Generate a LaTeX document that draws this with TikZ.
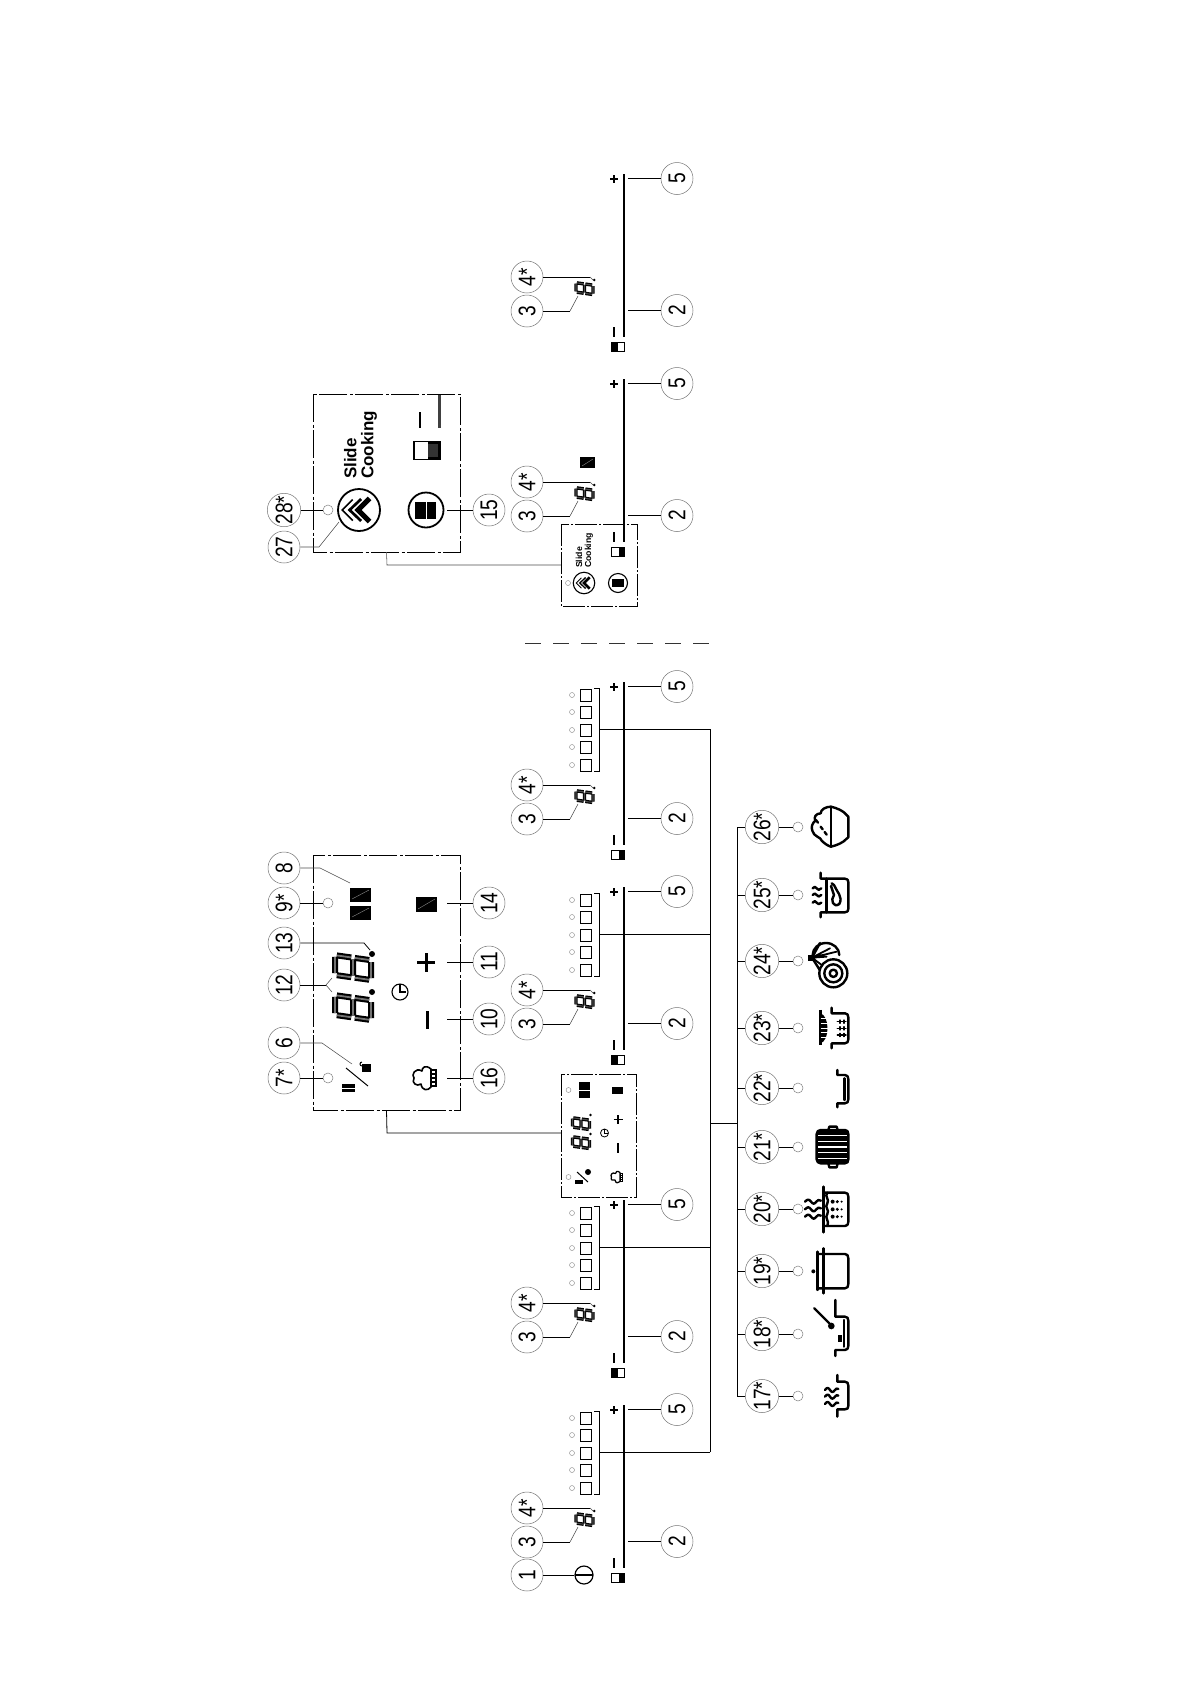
\documentclass[tikz,border=0pt]{standalone}
\usepackage{fontspec}
\setmainfont{Liberation Sans}
\tikzset{
  x=1pt,y=-1pt,
  num/.style={circle,draw=black!55,line width=.5pt,minimum size=32pt,inner sep=0pt,rotate=90,text=black,font=\fontsize{24}{24}\selectfont},
  dotc/.style={circle,draw=black!50,line width=.5pt,minimum size=10pt,inner sep=0pt},
  dots/.style={circle,draw=black!50,line width=.4pt,minimum size=5pt,inner sep=0pt},
  lead/.style={draw=black,line width=.8pt},
  leadg/.style={draw=black!70,line width=.55pt},
  boxd/.style={draw=black,line width=.8pt,dash pattern=on 28pt off 2.5pt on 3pt off 2.5pt},
  boxs/.style={draw=black,line width=.8pt,dash pattern=on 22pt off 2pt on 2pt off 2pt},
  bus/.style={draw=black,line width=1pt},
  ic/.style={draw=black,line width=2.4pt,line cap=round,line join=round},
  slidetxt/.style={rotate=90,anchor=west,inner sep=0pt,align=left},
}
\newcommand{\nt}[1]{\scalebox{0.8}[1]{#1}}
% x y size width inner-colour
\newcommand{\segdigit}[5]{%
  \begin{scope}[shift={(#1,#2)},x={(0pt,#3pt)},y={(-#3pt,0.14*#3pt)}]
    \foreach \cc/\ww in {black/#4,#5/0.3*#4}{
    \draw[\cc,line width=\ww pt]
      (.05,1)--(.5,1) (.05,.5)--(.5,.5) (.05,0)--(.5,0)
      (0,.55)--(0,.95) (.55,.55)--(.55,.95) (0,.05)--(0,.45) (.55,.05)--(.55,.45);}
  \end{scope}}
\newcommand{\chefhat}[3]{%
  \begin{scope}[shift={(#1,#2)},x=#3pt,y=-#3pt]
    \draw[black,line width=.9pt+.7pt*#3,line join=round] (6,-9) .. controls (0,-14) and (-3,-10) .. (-3,-7) .. controls (-10,-11) and (-14,-3) .. (-11,0) .. controls (-14,5) and (-8,9) .. (-4,6) .. controls (-3,13) and (3,13) .. (6,9) -- cycle;
    \fill[black] (5,-9) rectangle (12,9);
    \foreach \q in {-6,-2,2,6}{\fill[white] (7,\q-.8) rectangle (10,\q+.8);}
  \end{scope}}
\newcommand{\chevrons}[3]{%
  \begin{scope}[shift={(#1,#2)},x=#3pt,y=-#3pt]
    \draw[black,line width=#3*1.5pt] (-5,-10)--(-15,0)--(-5,10);
    \draw[black,line width=#3*2.6pt] (3,-10.5)--(-8,0)--(3,10.5);
    \draw[black,line width=#3*5pt] (11,-11)--(0,0)--(11,11);
  \end{scope}}
\newcommand{\onoff}[6]{% frame x0 y0 x1 y1, white part x0 x1
  \fill[black] (#1,#2) rectangle (#3,#4);
  \fill[white] (#5,{#2+1.4}) rectangle (#6,{#4-1.4});}
% one slider; #1 id, #2 shift, #3/#4 white part of the switch
\newcommand{\sliderunit}[4]{%
  \begin{scope}[shift={(0,#2)}]
    \onoff{611}{1573}{625}{1583}{#3}{#4}
    \draw[black,line width=2pt] (624,1405)--(624,1568);
    \draw[black,line width=1.6pt] (610,1410)--(618,1410) (614,1406)--(614,1414);
    \draw[black,line width=1.6pt] (614,1558)--(614,1568);
    \node[num] (nb#1) at (677,1541.5) {\nt{2}};
    \node[num] (nf#1) at (677,1409.5) {\nt{5}};
    \node[num] (nc#1) at (527,1542) {\nt{3}};
    \node[num] (nd#1) at (527,1508) {\nt{4*}};
    \coordinate (lb#1) at (628,1541.5);
    \coordinate (lf#1) at (628,1409.5);
    \coordinate (lc#1) at (570,1542);
    \coordinate (lce#1) at (578,1527);
    \coordinate (ld#1) at (590,1508);
    \coordinate (lde#1) at (593,1511);
    \draw[lead] (nb#1)--(lb#1);
    \draw[lead] (nf#1)--(lf#1);
    \draw[lead] (nc#1)--(lc#1);
    \draw[leadg] (lc#1)--(lce#1);
    \draw[lead] (nd#1)--(ld#1);
    \draw[leadg] (ld#1)--(lde#1);
    \segdigit{593}{1525.5}{17}{3.4}{black!70}
    \fill[black] (594.3,1511) circle (1.4);
  \end{scope}}
% five-level indicator with bracket; joins the bus
\newcommand{\squaresunit}[2]{%
  \begin{scope}[shift={(0,#2)}]
    \foreach \q/\r in {1418/a,1435/b,1453/c,1470/d,1488/e}{
      \node[dots] (s#1\r) at (572,\q) {};
      \node[draw=black,line width=.8pt,minimum width=11pt,minimum height=12pt,inner sep=0pt] (q#1\r) at (585.5,\q) {};
    }
    \coordinate (bk#1) at (599.5,1452);
    \coordinate (bs#1) at (710,1452);
    \draw[black,line width=.8pt] (594,1411)--(599.5,1411)--(599.5,1494)--(594,1494);
    \draw[bus] (bk#1)--(bs#1);
  \end{scope}}
\begin{document}
\begin{tikzpicture}
\useasboundingbox (0,0) rectangle (1190,1684);

% ---------- sliders
\sliderunit{a}{0}{612.4}{619}
\sliderunit{b}{-205}{618}{623.6}
\sliderunit{c}{-518}{618}{623.6}
\sliderunit{d}{-723}{612.4}{619}
\sliderunit{e}{-1026}{612.4}{619}
\sliderunit{f}{-1231}{618}{623.6}
\squaresunit{a}{0}
\squaresunit{b}{-205}
\squaresunit{c}{-518}
\squaresunit{d}{-723}

% power key
\node[num] (n1) at (527,1575) {\nt{1}};
\node[circle,draw=black,line width=1.2pt,minimum size=18pt,inner sep=0pt] (pw) at (584,1575) {};
\draw[lead] (n1)--(pw);
\draw[black,line width=1.2pt] (575,1575)--(593,1575);

% ---------- main bus
\draw[bus] (bsa)--(bsd);
\coordinate (bm) at (710,1123);
\coordinate (bt) at (737,1123);
\draw[bus] (bm)--(bt);

% ---------- zoomed timer box
\node[draw=none,minimum width=75pt,minimum height=123pt,inner sep=0pt] (sbox) at (598.5,1135.5) {};
\draw[boxs] (561,1074) rectangle (636,1197);
\node[draw=none,minimum width=147pt,minimum height=255pt,inner sep=0pt] (bbox) at (386.5,982.5) {};
\draw[boxd] (313,855) rectangle (460,1110);
\coordinate (bbc) at (387,1133);
\coordinate (bbd) at (561,1133);
\draw[lead] (bbox.south) -- (bbc) -- (bbd);

\node[num] (n8) at (284,868) {\nt{8}};
\node[num] (n9) at (284,903) {\nt{9*}};
\node[num] (n13) at (284,943) {\nt{13}};
\node[num] (n12) at (284,985) {\nt{12}};
\node[num] (n6) at (284,1043) {\nt{6}};
\node[num] (n7) at (284,1078) {\nt{7*}};
\node[num] (n14) at (489,903) {\nt{14}};
\node[num] (n11) at (489,962) {\nt{11}};
\node[num] (n10) at (489,1019) {\nt{10}};
\node[num] (n16) at (489,1078) {\nt{16}};
\node[dotc] (d9) at (328,903) {};
\node[dotc] (d7) at (328,1078) {};
\coordinate (k8a) at (320,868); \coordinate (k8b) at (350,883);
\coordinate (k13a) at (364,943); \coordinate (k13b) at (370,950);
\coordinate (k12a) at (326,985); \coordinate (k12b) at (332,978); \coordinate (k12c) at (332,992);
\coordinate (k6a) at (322,1043); \coordinate (k6b) at (352,1064);
\coordinate (k14) at (447,903); \coordinate (k11) at (447,962); \coordinate (k10) at (447,1019); \coordinate (k16) at (447,1078);
\draw[leadg] (n8)--(k8a)--(k8b);
\draw[lead] (n9)--(d9);
\draw[lead] (n13)--(k13a)--(k13b);
\draw[lead] (n12)--(k12a);
\draw[leadg] (k12b)--(k12a)--(k12c);
\draw[leadg] (n6)--(k6a)--(k6b);
\draw[lead] (n7)--(d7);
\draw[lead] (n14)--(k14);
\draw[lead] (n11)--(k11);
\draw[lead] (n10)--(k10);
\draw[lead] (n16)--(k16);

% big box icons
\fill[black] (350,888) rectangle (371,902);
\fill[black] (350,906) rectangle (371,920);
\draw[black!45,line width=.4pt] (352,899)--(369,890) (352,917)--(369,908);
\fill[black] (416,897) rectangle (437,912);
\draw[black!45,line width=.4pt] (418,909)--(435,899);
\segdigit{371}{980}{36}{6}{black!55}
\segdigit{371}{1020}{36}{6}{black!55}
\fill[black] (372,954) circle (3);
\fill[black] (372,992) circle (3);
\draw[black,line width=1.1pt] (400,992) circle (8);
\draw[black,line width=1.1pt] (400,984)--(400,992)--(406,992);
\draw[black,line width=3pt] (426,953)--(426,972) (417,962)--(435,962);
\draw[black,line width=3pt] (427,1011)--(427,1029);
\draw[black,line width=1pt] (346,1068)--(368,1086);
\fill[black] (342,1084) rectangle (355,1087.5);
\fill[black] (342,1088.5) rectangle (355,1092);
\fill[black] (362,1064) rectangle (371,1072);
\draw[black,line width=1pt] (362,1066) arc (90:270:2);
\chefhat{425}{1078}{1}

% small copy icons
\node[dots] (s1) at (568.5,1090) {};
\node[dots] (s2) at (568.5,1177) {};
\fill[black] (579,1082) rectangle (590,1089.5);
\fill[black] (579,1090.5) rectangle (590,1098);
\fill[black] (612,1087) rectangle (623,1094);
\segdigit{589.5}{1129.5}{17}{3.4}{black!70}
\segdigit{589.5}{1148.5}{17}{3.4}{black!70}
\fill[black] (590.5,1115) circle (1.4);
\fill[black] (590.5,1134) circle (1.4);
\draw[black,line width=.8pt] (604.5,1133) circle (4);
\draw[black,line width=.8pt] (604.5,1129)--(604.5,1133)--(607.5,1133);
\draw[black,line width=1.6pt] (618,1115)--(618,1124) (613.5,1119.5)--(622.5,1119.5);
\draw[black,line width=1.6pt] (618,1143)--(618,1153);
\draw[black,line width=1pt] (577,1172)--(588,1182);
\fill[black] (575,1180) rectangle (583,1184);
\fill[black] (588,1172) circle (3);
\chefhat{617}{1177}{.5}

% ---------- slide box
\node[draw=none,minimum width=147pt,minimum height=158pt,inner sep=0pt] (cbox) at (386.5,473) {};
\draw[boxd] (313,394) rectangle (460,552);
\node[draw=none,minimum width=76pt,minimum height=82pt,inner sep=0pt] (tbox) at (599,565) {};
\draw[boxs] (561,524) rectangle (637,606);
\coordinate (cbc) at (387,565);
\draw[leadg] (cbox.south) -- (cbc) -- (tbox.west);

\node[num] (n28) at (284,510) {\nt{28*}};
\node[num] (n27) at (284,547) {\nt{27}};
\node[num] (n15) at (489,510) {\nt{15}};
\node[dotc] (d28) at (328,510) {};
\node[circle,draw=black,line width=1.8pt,minimum size=42pt,inner sep=0pt] (big1) at (359,510) {};
\node[circle,draw=black,line width=1.8pt,minimum size=35pt,inner sep=0pt] (big2) at (426,510) {};
\coordinate (k27a) at (319,547); \coordinate (k27b) at (339,522);
\coordinate (k15) at (447,510);
\draw[lead] (n28)--(d28);
\draw[leadg] (n27)--(k27a)--(k27b);
\draw[lead] (n15)--(k15);
\chevrons{358}{510}{1.05}
\fill[black] (415,502) rectangle (425.5,519);
\fill[black] (426.5,502) rectangle (436,519);
\node[slidetxt,font=\fontsize{17}{17}\selectfont\bfseries] (tx1) at (360.5,479) {Slide\\Cooking};
\onoff{413}{441}{441}{460}{415}{428}
\fill[black!80] (428,444) rectangle (438,457);
\draw[black,line width=2.4pt] (420,412)--(420,428);
\draw[black!75,line width=3pt] (439.5,395)--(439.5,428);

% small slide panel
\node[dots] (s3) at (568,583) {};
\node[circle,draw=black,line width=1.1pt,minimum size=21.5pt,inner sep=0pt] (sm1) at (584,583) {};
\node[circle,draw=black,line width=1.1pt,minimum size=19pt,inner sep=0pt] (sm2) at (618,583) {};
\chevrons{584}{583}{.52}
\fill[black] (612,579) rectangle (624,587);
\node[slidetxt,font=\fontsize{8.7}{9}\selectfont\bfseries] (tx2) at (584.5,568) {Slide\\Cooking};
\fill[black] (580,457) rectangle (595,468);
\draw[black!45,line width=.4pt] (582,466)--(593,459);

% ---------- dashed separator
\coordinate (sepa) at (525,643);
\coordinate (sepb) at (711,643);
\draw[black!80,line width=.8pt,dash pattern=on 16pt off 12pt] (sepa)--(sepb);

% ---------- function bus
\coordinate (fa) at (737,827);
\coordinate (fb) at (737,1396);
\draw[bus] (fa)--(fb);
\foreach \yy/\t in {827/26,895/25,961/24,1028/23,1088/22,1147/21,1209/20,1271/19,1334/18,1396/17}{
  \node[num] (f\t) at (762,\yy) {\nt{\t*}};
  \node[dotc] (g\t) at (798,\yy) {};
  \coordinate (h\t) at (737,\yy);
  \draw[lead] (h\t)--(f\t);
  \draw[lead] (f\t)--(g\t);
}

% ---------- function icons (upper crop coordinates)
\begin{scope}[shift={(730,780)},x=.3333pt,y=-.3333pt]
  % rice bowl
  \draw[ic] (303,80)--(303,200);
  \draw[ic] (303,80) .. controls (320,84) and (340,92) .. (350,105)--(355,110)--(355,172)--(350,176) .. controls (340,188) and (320,196) .. (303,200);
  \draw[ic] (303,80) .. controls (288,80) and (272,88) .. (272,100) .. controls (258,100) and (250,112) .. (256,122) .. controls (246,130) and (243,142) .. (247,152) .. controls (250,170) and (275,172) .. (275,182) .. controls (285,192) and (295,198) .. (303,200);
  \draw[ic] (272,140)--(278,148) (284,156)--(290,164) (258,120)--(264,128);
  % roast
  \draw[ic] (272,278)--(272,296)--(345,296) .. controls (352,296) and (355,300) .. (355,306)--(355,387) .. controls (355,393) and (352,397) .. (345,397)--(272,397)--(272,412);
  \draw[ic] (290,296)--(290,397);
  \foreach \q in {325,345,368}{
    \draw[ic,shift={(248,\q)}] (0,0) .. controls (5,-6) and (8,-6) .. (12,0) .. controls (16,6) and (20,6) .. (26,0);}
  \draw[ic] (305,310)--(312,315) .. controls (320,335) and (340,350) .. (328,372) .. controls (310,385) and (300,360) .. (312,345) -- (303,318);
  % vegetable
  \draw[ic] (328,525) arc (0:-180:40 and 36);
  \draw[ic] (270,489) -- (246,533) -- (268,568);
  \draw[ic,line width=1.8pt] (246,533) -- (300,505) (246,533) -- (290,530) (246,533) -- (275,555) (246,533)--(320,515);
  \fill[black] (235,525) rectangle (248,542);
  \filldraw[ic,fill=white] (310,580) circle (42);
  \draw[ic] (310,580) circle (27);
  \draw[ic] (310,580) circle (11);
  % colander pot
  \draw[ic] (305,683)--(305,700)--(345,700) .. controls (352,700) and (355,705) .. (355,712)--(355,778) .. controls (355,785) and (352,790) .. (345,790)--(305,790)--(305,805);
  \draw[line width=3pt,black] (270,690)--(270,795);
  \fill[black] (270,700) .. controls (300,705) and (300,785) .. (270,790) -- cycle;
  \foreach \q in {716,730,744,758,772}{\draw[white,line width=.5pt] (272,\q)--(298,\q);}
  \foreach \q in {725,745,765}{\draw[ic,line width=1.4pt] (322,\q)--(348,\q); \draw[ic,line width=1.2pt] (330,\q-5)--(330,\q+5) (342,\q-5)--(342,\q+5);}
\end{scope}
\begin{scope}[shift={(730,1070)},x=.3333pt,y=-.3333pt]
  % pan 22
  \draw[ic] (322,0)--(322,15)--(345,15) .. controls (352,15) and (355,20) .. (355,27)--(355,88) .. controls (355,95) and (352,100) .. (345,100)--(322,100)--(322,112);
  \draw[ic] (344,25)--(344,90);
  % griddle
  \draw[ic,fill=black] (272,180)--(345,180) .. controls (352,180) and (355,185) .. (355,192)--(355,268) .. controls (355,275) and (352,280) .. (345,280)--(272,280) .. controls (265,280) and (260,275) .. (260,268)--(260,192) .. controls (260,185) and (265,180) .. (272,180) -- cycle;
  \foreach \q in {197,214,231,248,265}{\draw[white,line width=1.2pt] (265,\q)--(350,\q);}
  \draw[ic] (295,180)--(298,170)--(320,170)--(323,180);
  \draw[ic] (295,280)--(298,292)--(320,292)--(323,280);
  % steamer 20
  \draw[ic] (280,350)--(280,487);
  \draw[ic] (280,368)--(345,368) .. controls (352,368) and (355,372) .. (355,380)--(355,456) .. controls (355,463) and (352,468) .. (345,468)--(280,468);
  \draw[ic] (292,368) .. controls (282,380) and (300,388) .. (292,400) .. controls (282,412) and (300,420) .. (292,432) .. controls (282,444) and (300,452) .. (292,468);
  \foreach \q in {395,418,440}{
    \fill[black] (308,\q) circle (6) (322,\q) circle (5) (335,\q) circle (3.5);
    \draw[ic,shift={(225,\q)}] (0,0) .. controls (8,-8) and (12,-8) .. (18,0) .. controls (24,8) and (28,8) .. (34,0) .. controls (38,-6) and (42,-6) .. (48,-3);}
  % stock pot 19
  \draw[ic] (280,535)--(280,670);
  \draw[ic] (262,545)--(262,660);
  \draw[ic] (262,552)--(345,552) .. controls (352,552) and (355,557) .. (355,565)--(355,642) .. controls (355,650) and (352,655) .. (345,655)--(262,655);
  \fill[black] (250,604) circle (6);
  % skillet 18
  \draw[ic] (316,690)--(316,740)--(345,740) .. controls (352,740) and (355,745) .. (355,752)--(355,828) .. controls (355,835) and (352,840) .. (345,840)--(316,840)--(316,858);
  \draw[ic] (342,750)--(342,830);
  \draw[ic] (253,715)--(300,762);
  \fill[black] (304,768) circle (10);
  \fill[black] (325,795) rectangle (335,815);
  % steam pan 17
  \draw[ic] (322,915)--(322,935)--(345,935) .. controls (352,935) and (355,940) .. (355,947)--(355,1008) .. controls (355,1015) and (352,1018) .. (345,1018)--(322,1018)--(322,1040);
  \foreach \q in {960,980,1002}{
    \draw[ic,shift={(285,\q)}] (0,0) .. controls (6,-8) and (10,-8) .. (15,0) .. controls (20,8) and (24,8) .. (30,0) .. controls (33,-5) and (36,-5) .. (40,-3);}
\end{scope}
\end{tikzpicture}
\end{document}
